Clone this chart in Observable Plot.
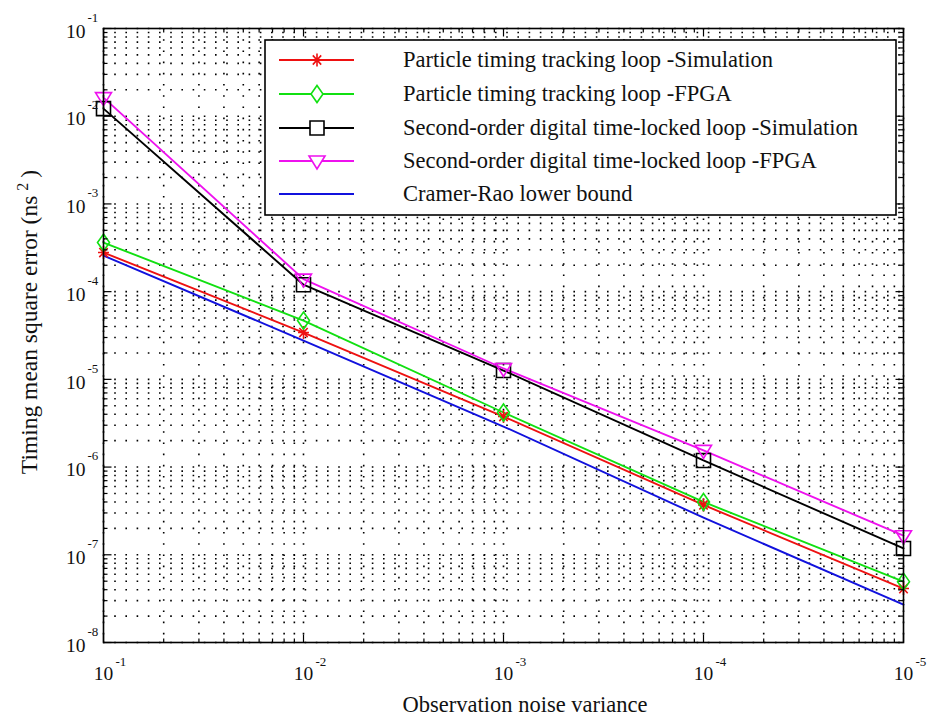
<!DOCTYPE html>
<html>
<head>
<meta charset="utf-8">
<script src="https://cdn.jsdelivr.net/npm/d3@7"></script>
<script src="https://cdn.jsdelivr.net/npm/@observablehq/plot@0.6"></script>
<style>
  html, body { margin: 0; padding: 0; background: #fff; }
  #chart { width: 933px; height: 718px; }
</style>
</head>
<body>
<div id="chart"></div>
<script>
// ---- Data ----
const noiseVariance = [1e-1, 1e-2, 1e-3, 1e-4, 1e-5];
const particleSim   = [2.79e-4, 3.42e-5, 3.77e-6, 3.70e-7, 4.12e-8];
const particleFpga  = [3.63e-4, 4.68e-5, 4.19e-6, 4.00e-7, 4.94e-8];
const secondSim     = [1.22e-2, 1.20e-4, 1.26e-5, 1.19e-6, 1.18e-7];
const secondFpga    = [1.63e-2, 1.39e-4, 1.33e-5, 1.55e-6, 1.65e-7];
const crlb          = [2.58e-4, 2.77e-5, 2.90e-6, 2.65e-7, 2.70e-8];

const seriesNames = [
  "Particle timing tracking loop -Simulation",
  "Particle timing tracking loop -FPGA",
  "Second-order digital time-locked loop -Simulation",
  "Second-order digital time-locked loop -FPGA",
  "Cramer-Rao lower bound"
];
const seriesColors = ["#ee1111", "#11e011", "#000000", "#ee11ee", "#1111dd"];

// tick labels
const xTickValues    = [1e-1, 1e-2, 1e-3, 1e-4, 1e-5];
const xTickExponents = ["-1", "-2", "-3", "-4", "-5"];
const yTickValues    = [1e-1, 1e-2, 1e-3, 1e-4, 1e-5, 1e-6, 1e-7, 1e-8];
const yTickExponents = ["-1", "-2", "-3", "-4", "-5", "-6", "-7", "-8"];
const minorMultipliers = [2, 3, 4, 5, 6, 7, 8, 9];

// ---- Derived tables ----
// The figure's x axis is drawn as an increasing log axis of 1/variance,
// relabelled 10^-1 ... 10^-5 (minor ticks crowd towards the right of each decade).
const inv = v => 1 / v;
const xMajor = xTickValues.map(inv);
const xMinor = xMajor.slice(0, -1).flatMap(d => minorMultipliers.map(m => d * m));
const yMajor = yTickValues.slice();
const yMinor = yMajor.slice(1).flatMap(d => minorMultipliers.map(m => d * m));
const xAll = xMajor.concat(xMinor);
const yAll = yMajor.concat(yMinor);

function rows(values) {
  return noiseVariance.map((v, i) => ({xv: inv(v), mse: values[i]}));
}
const dataSets = [particleSim, particleFpga, secondSim, secondFpga, crlb].map(rows);

// ---- Symbols ----
const symAsterisk = {draw(c) {
  c.moveTo(0, -6.5); c.lineTo(0, 6.5);
  c.moveTo(-5.5, 0); c.lineTo(5.5, 0);
  c.moveTo(-4.2, -4.6); c.lineTo(4.2, 4.6);
  c.moveTo(-4.2, 4.6); c.lineTo(4.2, -4.6);
}};
const symDiamond = {draw(c) {
  c.moveTo(0, -8.5); c.lineTo(6, 0); c.lineTo(0, 8.5); c.lineTo(-6, 0); c.closePath();
}};
const symSquare = {draw(c) {
  c.moveTo(-7, -7); c.lineTo(7, -7); c.lineTo(7, 7); c.lineTo(-7, 7); c.closePath();
}};
const symTriDown = {draw(c) {
  c.moveTo(-8, -5); c.lineTo(8, -5); c.lineTo(0, 8); c.closePath();
}};
const seriesSymbols = [symAsterisk, symDiamond, symSquare, symTriDown, null];

function tickSym(dx, dy) {
  return {draw(c) { c.moveTo(0, 0); c.lineTo(dx, dy); }};
}
const MAJ = 8, MIN = 4;

const FONT = "'Liberation Serif', 'Times New Roman', Times, serif";

// ---- Marks ----
const gridStyle = {stroke: "#000", strokeWidth: 1.6, strokeDasharray: "1.6,9.6"};
const marks = [
  // dotted grid at major + minor ticks
  Plot.ruleX(xAll, gridStyle),
  Plot.ruleY(yAll, gridStyle),
];

// series lines then markers
dataSets.forEach((ds, i) => {
  marks.push(Plot.line(ds, {x: "xv", y: "mse", stroke: seriesColors[i], strokeWidth: 1.9}));
});
dataSets.forEach((ds, i) => {
  if (seriesSymbols[i]) {
    marks.push(Plot.dot(ds, {x: "xv", y: "mse", symbol: seriesSymbols[i], fill: "none",
      stroke: seriesColors[i], strokeWidth: 1.6}));
  }
});

// inward ticks on all four sides
const tickStyle = {fill: "none", stroke: "#000", strokeWidth: 1.2};
marks.push(
  Plot.dotX(xMajor, {x: d => d, frameAnchor: "bottom", symbol: tickSym(0, -MAJ), ...tickStyle}),
  Plot.dotX(xMinor, {x: d => d, frameAnchor: "bottom", symbol: tickSym(0, -MIN), ...tickStyle}),
  Plot.dotX(xMajor, {x: d => d, frameAnchor: "top", symbol: tickSym(0, MAJ), ...tickStyle}),
  Plot.dotX(xMinor, {x: d => d, frameAnchor: "top", symbol: tickSym(0, MIN), ...tickStyle}),
  Plot.dotY(yMajor, {y: d => d, frameAnchor: "left", symbol: tickSym(MAJ, 0), ...tickStyle}),
  Plot.dotY(yMinor, {y: d => d, frameAnchor: "left", symbol: tickSym(MIN, 0), ...tickStyle}),
  Plot.dotY(yMajor, {y: d => d, frameAnchor: "right", symbol: tickSym(-MAJ, 0), ...tickStyle}),
  Plot.dotY(yMinor, {y: d => d, frameAnchor: "right", symbol: tickSym(-MIN, 0), ...tickStyle}),
  Plot.frame({stroke: "#000", strokeWidth: 1.6})
);

// tick labels: "10" with superscript exponent
marks.push(
  Plot.text(xMajor, {x: d => d, frameAnchor: "bottom", lineAnchor: "middle", text: () => "10",
    dy: 31, fontSize: 19.5, fill: "#111"}),
  Plot.text(xMajor, {x: d => d, frameAnchor: "bottom", lineAnchor: "middle",
    text: (d, i) => xTickExponents[i], textAnchor: "start", dx: 12, dy: 19, fontSize: 13, fill: "#111"}),
  Plot.text(yMajor, {y: d => d, frameAnchor: "left", lineAnchor: "middle", text: () => "10",
    textAnchor: "end", dx: -18, dy: 3, fontSize: 19.5, fill: "#111"}),
  Plot.text(yMajor, {y: d => d, frameAnchor: "left", lineAnchor: "middle",
    text: (d, i) => yTickExponents[i], textAnchor: "start", dx: -16, dy: -11, fontSize: 13, fill: "#111"})
);

const svg = Plot.plot({
  width: 933,
  height: 718,
  marginLeft: 103,
  marginRight: 30,
  marginTop: 28,
  marginBottom: 76,
  x: {type: "log", domain: [xMajor[0], xMajor[xMajor.length - 1]], axis: null},
  y: {type: "log", domain: [yMajor[yMajor.length - 1], yMajor[0]], axis: null},
  style: {fontFamily: FONT, background: "#fff", color: "#000"},
  marks
});

// ---- Axis titles and legend (annotation layer) ----
const s = d3.select(svg);

s.append("text")
  .attr("x", 525).attr("y", 712)
  .attr("text-anchor", "middle")
  .attr("font-family", FONT).attr("font-size", 22.5).attr("fill", "#111")
  .text("Observation noise variance");

const yt = s.append("text")
  .attr("transform", "translate(37,322) rotate(-90)")
  .attr("text-anchor", "middle")
  .attr("font-family", FONT).attr("font-size", 23.5).attr("fill", "#111");
yt.append("tspan").text("Timing mean square error (ns");
yt.append("tspan").attr("dx", 5).attr("dy", -9).attr("font-size", 16).text("2");
yt.append("tspan").attr("dx", 5).attr("dy", 9).text(")");

const lg = s.append("g");
lg.append("rect")
  .attr("x", 265).attr("y", 40).attr("width", 631).attr("height", 175)
  .attr("fill", "#fff").attr("stroke", "#000").attr("stroke-width", 1.6);
const rowY = [60, 94, 128, 161, 194];
seriesNames.forEach((name, i) => {
  const y = rowY[i];
  lg.append("line")
    .attr("x1", 279).attr("x2", 354).attr("y1", y).attr("y2", y)
    .attr("stroke", seriesColors[i]).attr("stroke-width", 1.9);
  if (seriesSymbols[i]) {
    const p = d3.path();
    seriesSymbols[i].draw(p, 0);
    lg.append("path")
      .attr("transform", `translate(317,${y})`)
      .attr("d", p.toString())
      .attr("fill", "#fff").attr("stroke", seriesColors[i]).attr("stroke-width", 1.6);
  }
  lg.append("text")
    .attr("x", 403).attr("y", y + 7)
    .attr("text-anchor", "start")
    .attr("font-family", FONT).attr("font-size", 22.5).attr("fill", "#111")
    .text(name);
});

document.getElementById("chart").appendChild(svg);
</script>
</body>
</html>
